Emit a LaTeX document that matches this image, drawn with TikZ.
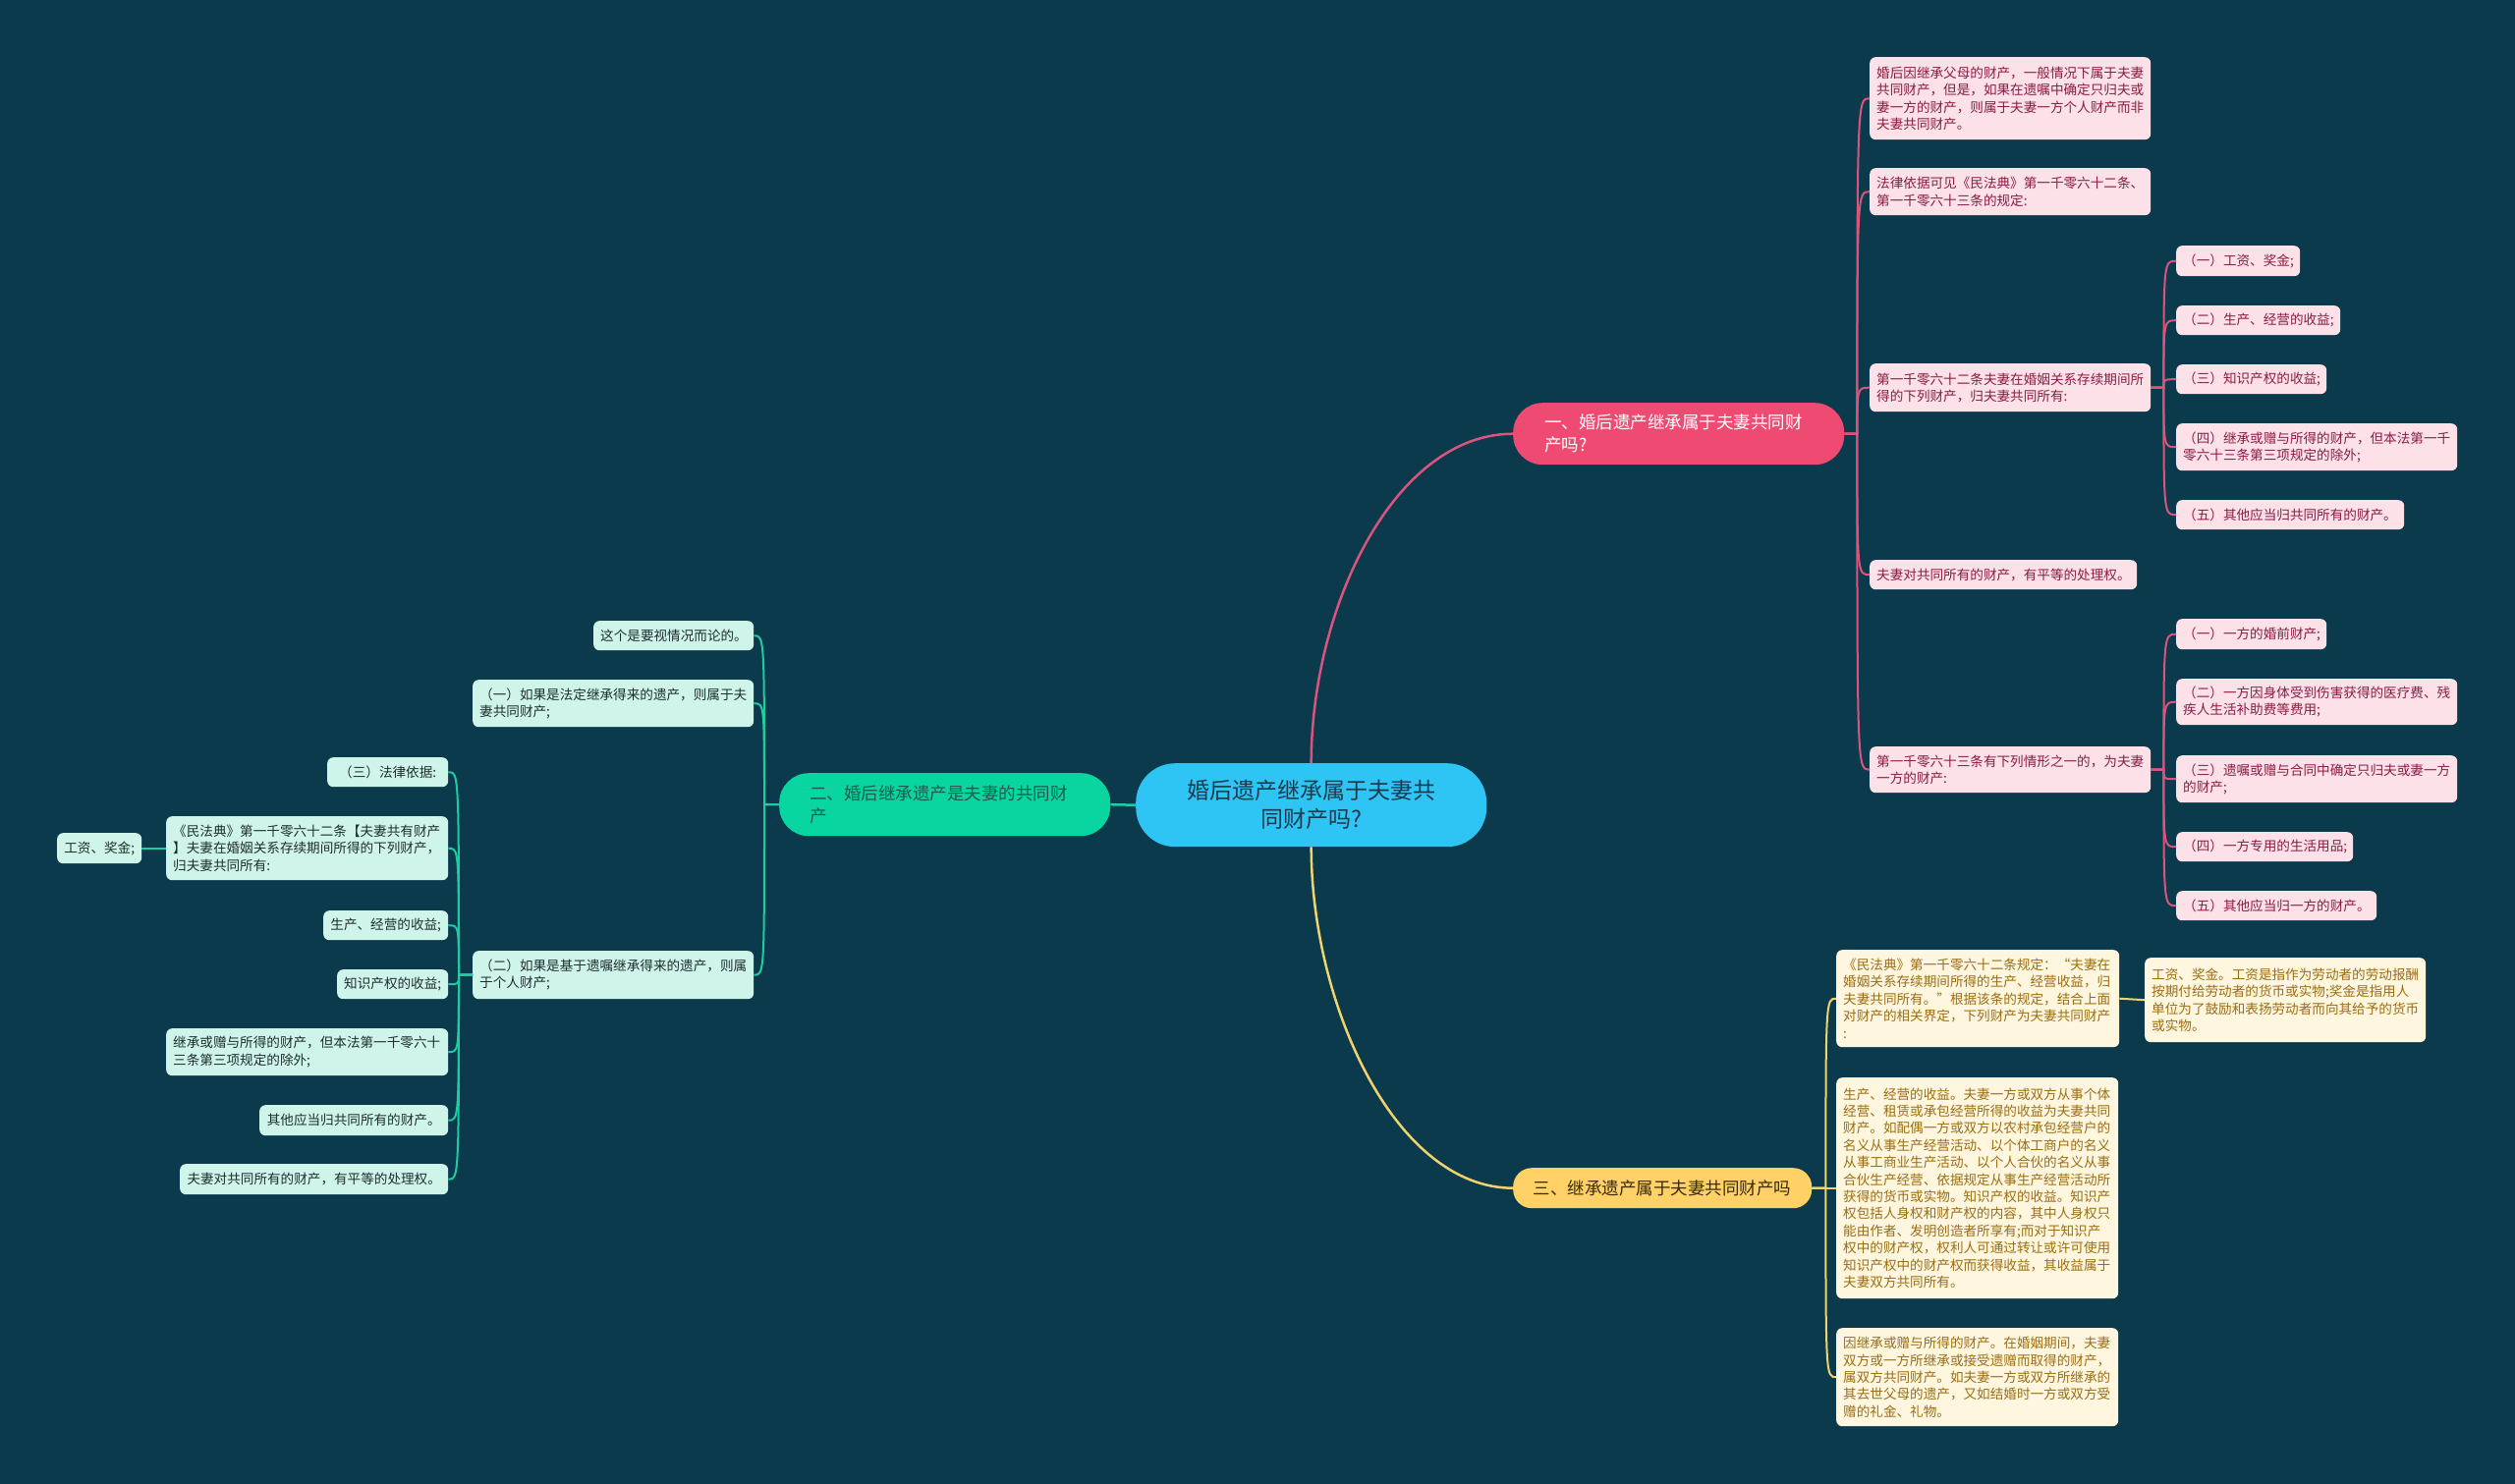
\documentclass[tikz,border=0pt]{standalone}
\usepackage{fontspec}
\setmainfont{Noto Sans CJK SC}
\usetikzlibrary{calc}
\definecolor{bg}{HTML}{0A3A4C}
\definecolor{cenF}{HTML}{2EC4F3}
\definecolor{cenT}{HTML}{1B3A4E}
\definecolor{pinkB}{HTML}{EE4A72}
\definecolor{pinkL}{HTML}{D9557E}
\definecolor{pleafF}{HTML}{FCE1E9}
\definecolor{pleafT}{HTML}{8A1C42}
\definecolor{greenB}{HTML}{08D5A0}
\definecolor{greenL}{HTML}{1FCBA0}
\definecolor{gbrT}{HTML}{1E5A4C}
\definecolor{gleafF}{HTML}{CFF5EB}
\definecolor{gleafT}{HTML}{1E2E2E}
\definecolor{yelB}{HTML}{FFD166}
\definecolor{yelL}{HTML}{F0D36E}
\definecolor{ybrT}{HTML}{3A2C08}
\definecolor{yleafF}{HTML}{FEF6DE}
\definecolor{yleafT}{HTML}{9C6D12}
\newcommand{\mmbox}[8]{%
  \pgfmathsetmacro{\mmw}{#6-#4}%
  \pgfmathsetmacro{\mmh}{#7-#5}%
  \pgfmathsetmacro{\mmt}{#6-#4-2*#3}%
  \node[anchor=north west, inner ysep=1pt, align=left, #2, inner xsep=#3pt,
        minimum width=\mmw pt, minimum height=\mmh pt, text width=\mmt pt] (#1) at (#4,#5) {#8};}
\tikzset{
  leafbase/.style={rounded corners=6pt, font=\fontsize{13.6}{17.4}\selectfont},
  pleaf/.style={leafbase, fill=pleafF, text=pleafT},
  gleaf/.style={leafbase, fill=gleafF, text=gleafT},
  yleaf/.style={leafbase, fill=yleafF, text=yleafT},
  brfont/.style={font=\fontsize{17.5}{23}\selectfont},
  cen/.style={fill=cenF, text=cenT, font=\fontsize{23}{29}\selectfont, align=center, rounded corners=40pt},
  pbr/.style={brfont, fill=pinkB, text=white, rounded corners=30pt},
  gbr/.style={brfont, fill=greenB, text=gbrT, rounded corners=30pt},
  ybr/.style={brfont, fill=yelB, text=ybrT, align=center, rounded corners=19pt},
  pcon/.style={draw=pinkL, line width=2pt},
  gcon/.style={draw=greenL, line width=2pt},
  ycon/.style={draw=yelL, line width=2pt},
}
\begin{document}
\begin{tikzpicture}[x=1pt,y=-1pt]
\useasboundingbox (0,0) rectangle (2560,1511);
\fill[bg] (0,0) rectangle (2560,1511);

% central and main branches
\mmbox{C}{cen}{50}{1156}{777}{1513}{862}{婚后遗产继承属于夫妻共\\同财产吗?}
\mmbox{B1}{pbr}{32}{1540}{410}{1877}{473}{一、婚后遗产继承属于夫妻共同财\\产吗?}
\mmbox{B2}{gbr}{31}{793}{787}{1130}{851}{二、婚后继承遗产是夫妻的共同财\\产}
\mmbox{B3}{ybr}{20}{1540}{1189}{1844}{1230}{三、继承遗产属于夫妻共同财产吗}

% pink leaves
\mmbox{P1}{pleaf}{7}{1903}{58}{2189}{142}{婚后因继承父母的财产，一般情况下属于夫妻\\共同财产，但是，如果在遗嘱中确定只归夫或\\妻一方的财产，则属于夫妻一方个人财产而非\\夫妻共同财产。}
\mmbox{P2}{pleaf}{7}{1903}{171}{2189}{219}{法律依据可见《民法典》第一千零六十二条、\\第一千零六十三条的规定:}
\mmbox{P3}{pleaf}{7}{1903}{370}{2189}{419}{第一千零六十二条夫妻在婚姻关系存续期间所\\得的下列财产，归夫妻共同所有:}
\mmbox{P4}{pleaf}{7}{1903}{570}{2175}{600}{夫妻对共同所有的财产，有平等的处理权。}
\mmbox{P5}{pleaf}{7}{1903}{760}{2189}{807}{第一千零六十三条有下列情形之一的，为夫妻\\一方的财产:}

\mmbox{c1}{pleaf}{7}{2215}{250}{2341}{281}{（一）工资、奖金;}
\mmbox{c2}{pleaf}{7}{2215}{311}{2382}{341}{（二）生产、经营的收益;}
\mmbox{c3}{pleaf}{7}{2215}{371}{2368}{401}{（三）知识产权的收益;}
\mmbox{c4}{pleaf}{7}{2215}{431}{2501}{479}{（四）继承或赠与所得的财产，但本法第一千\\零六十三条第三项规定的除外;}
\mmbox{c5}{pleaf}{7}{2215}{509}{2447}{539}{（五）其他应当归共同所有的财产。}

\mmbox{d1}{pleaf}{7}{2215}{630}{2368}{661}{（一）一方的婚前财产;}
\mmbox{d2}{pleaf}{7}{2215}{691}{2501}{738}{（二）一方因身体受到伤害获得的医疗费、残\\疾人生活补助费等费用;}
\mmbox{d3}{pleaf}{7}{2215}{769}{2501}{817}{（三）遗嘱或赠与合同中确定只归夫或妻一方\\的财产;}
\mmbox{d4}{pleaf}{7}{2215}{847}{2395}{877}{（四）一方专用的生活用品;}
\mmbox{d5}{pleaf}{7}{2215}{907}{2419}{937}{（五）其他应当归一方的财产。}

% green leaves
\mmbox{G1}{gleaf}{7}{604}{632}{767}{662}{这个是要视情况而论的。}
\mmbox{G2}{gleaf}{7}{481}{692}{767}{740}{（一）如果是法定继承得来的遗产，则属于夫\\妻共同财产;}
\mmbox{G3}{gleaf}{7}{481}{968}{767}{1017}{（二）如果是基于遗嘱继承得来的遗产，则属\\于个人财产;}
\mmbox{g1}{gleaf,align=center}{7}{333}{771}{456}{801}{（三）法律依据:}
\mmbox{g2}{gleaf}{7}{169}{831}{456}{896}{《民法典》第一千零六十二条【夫妻共有财产\\】夫妻在婚姻关系存续期间所得的下列财产，\\归夫妻共同所有:}
\mmbox{g2a}{gleaf,align=center}{7}{58}{848}{144}{879}{工资、奖金;}
\mmbox{g3}{gleaf,align=center}{7}{329}{927}{456}{957}{生产、经营的收益;}
\mmbox{g4}{gleaf,align=center}{7}{343}{987}{456}{1017}{知识产权的收益;}
\mmbox{g5}{gleaf}{7}{169}{1047}{456}{1095}{继承或赠与所得的财产，但本法第一千零六十\\三条第三项规定的除外;}
\mmbox{g6}{gleaf,align=center}{7}{264}{1125}{456}{1156}{其他应当归共同所有的财产。}
\mmbox{g7}{gleaf,align=center}{7}{183}{1185}{456}{1216}{夫妻对共同所有的财产，有平等的处理权。}

% yellow leaves
\mmbox{Y1}{yleaf}{7}{1869}{967}{2157}{1066}{《民法典》第一千零六十二条规定：“夫妻在\\婚姻关系存续期间所得的生产、经营收益，归\\夫妻共同所有。”根据该条的规定，结合上面\\对财产的相关界定，下列财产为夫妻共同财产\\:}
\mmbox{Y1c}{yleaf}{7}{2183}{975}{2469}{1061}{工资、奖金。工资是指作为劳动者的劳动报酬\\按期付给劳动者的货币或实物;奖金是指用人\\单位为了鼓励和表扬劳动者而向其给予的货币\\或实物。}
\mmbox{Y2}{yleaf}{7}{1869}{1097}{2156}{1322}{生产、经营的收益。夫妻一方或双方从事个体\\经营、租赁或承包经营所得的收益为夫妻共同\\财产。如配偶一方或双方以农村承包经营户的\\名义从事生产经营活动、以个体工商户的名义\\从事工商业生产活动、以个人合伙的名义从事\\合伙生产经营、依据规定从事生产经营活动所\\获得的货币或实物。知识产权的收益。知识产\\权包括人身权和财产权的内容，其中人身权只\\能由作者、发明创造者所享有;而对于知识产\\权中的财产权，权利人可通过转让或许可使用\\知识产权中的财产权而获得收益，其收益属于\\夫妻双方共同所有。}
\mmbox{Y3}{yleaf}{7}{1869}{1352}{2156}{1452}{因继承或赠与所得的财产。在婚姻期间，夫妻\\双方或一方所继承或接受遗赠而取得的财产，\\属双方共同财产。如夫妻一方或双方所继承的\\其去世父母的遗产，又如结婚时一方或双方受\\赠的礼金、礼物。}

% spine coordinates
\path (B1.east) ++(13,0) coordinate (s1);
\path (P3.east) ++(13,0) coordinate (s13);
\path (P5.east) ++(13,0) coordinate (s15);
\path (B2.west) ++(-15,0) coordinate (s2);
\path (G3.west) ++(-14,0) coordinate (s23);
\path (B3.east) ++(14,0) coordinate (s3);

% main connectors
\draw[pinkL, line width=2.5pt] (C.north) .. controls ($(C.north)+(0,-160)$) and ($(B1.west)+(-120,0)$) .. (B1.west);
\draw[yelL, line width=2.5pt] (C.south) .. controls ($(C.south)+(0,160)$) and ($(B3.west)+(-120,0)$) .. (B3.west);
\draw[greenL, line width=2.5pt] (C.west) -- (B2.east);

% pink connectors
\foreach \n in {P1,P2,P3,P4,P5}
  \draw[pcon] (B1.east) -- (s1) .. controls (s1 |- \n.west) .. (\n.west);
\foreach \n in {c1,c2,c3,c4,c5}
  \draw[pcon] (P3.east) -- (s13) .. controls (s13 |- \n.west) .. (\n.west);
\foreach \n in {d1,d2,d3,d4,d5}
  \draw[pcon] (P5.east) -- (s15) .. controls (s15 |- \n.west) .. (\n.west);

% green connectors
\foreach \n in {G1,G2,G3}
  \draw[gcon] (B2.west) -- (s2) .. controls (s2 |- \n.east) .. (\n.east);
\foreach \n in {g1,g2,g3,g4,g5,g6,g7}
  \draw[gcon] (G3.west) -- (s23) .. controls (s23 |- \n.east) .. (\n.east);
\draw[gcon] (g2.west) -- (g2a.east);

% yellow connectors
\foreach \n in {Y1,Y2,Y3}
  \draw[ycon] (B3.east) -- (s3) .. controls (s3 |- \n.west) .. (\n.west);
\draw[ycon] (Y1.east) -- (Y1c.west);
\end{tikzpicture}
\end{document}
